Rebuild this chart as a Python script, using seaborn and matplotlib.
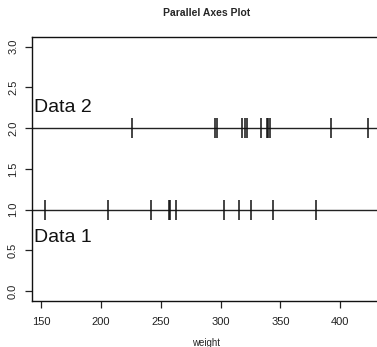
import matplotlib
matplotlib.use("Agg")
import matplotlib.pyplot as plt
import seaborn as sns
import pandas as pd

# chickwts-like weights
data1 = [153, 206, 242, 257, 258, 263, 303, 315, 325, 344, 380]
data2 = [226, 295, 297, 318, 320, 322, 334, 339, 340, 341, 392, 423]
group_labels = ["Data 1", "Data 2"]
group_levels = [1, 2]
x_ticks = [150, 200, 250, 300, 350, 400]
y_ticks = [0.0, 0.5, 1.0, 1.5, 2.0, 2.5, 3.0]

df = pd.DataFrame({
    "weight": data1 + data2,
    "level": [group_levels[0]] * len(data1) + [group_levels[1]] * len(data2),
})

sns.set_style("ticks")
plt.rcParams["font.family"] = ["Liberation Sans", "DejaVu Sans"]

W, H = 377, 347
fig = plt.figure(figsize=(W / 100, H / 100), dpi=100)
left_px, right_px, top_px, bottom_px = 32, 380.6, 37, 300.7
ax = fig.add_axes([left_px / W, 1 - bottom_px / H,
                   (right_px - left_px) / W, (bottom_px - top_px) / H])

for lv in group_levels:
    ax.axhline(lv, color="#222222", lw=1.0, zorder=1)

sns.scatterplot(data=df, x="weight", y="level", marker="|", s=190,
                color="#111111", linewidth=1.1, ax=ax, legend=False, zorder=2)

ax.set_xlim(142.2, 433.8)
ax.set_ylim(-0.12, 3.12)
ax.set_xticks(x_ticks)
ax.set_yticks(y_ticks)
ax.set_yticklabels([f"{v:.1f}" for v in y_ticks], rotation=90, va="center")
ax.tick_params(axis="both", length=5, width=0.9, labelsize=8, colors="#222222")
ax.tick_params(axis="y", pad=5)
ax.tick_params(axis="x", pad=7)
for sp in ax.spines.values():
    sp.set_color("#111111")
    sp.set_linewidth(1.0)

ax.set_xlabel("weight", fontsize=7, labelpad=7.5)
ax.set_ylabel("")
ax.set_title("Parallel Axes Plot", fontsize=7.5, fontweight="bold", pad=15)

ax.text(143.8, 2.2, group_labels[1], fontsize=14, ha="left", va="baseline", color="#111111")
ax.text(143.8, 0.6, group_labels[0], fontsize=14, ha="left", va="baseline", color="#111111")

fig.savefig("out.png", dpi=100, facecolor="white")
